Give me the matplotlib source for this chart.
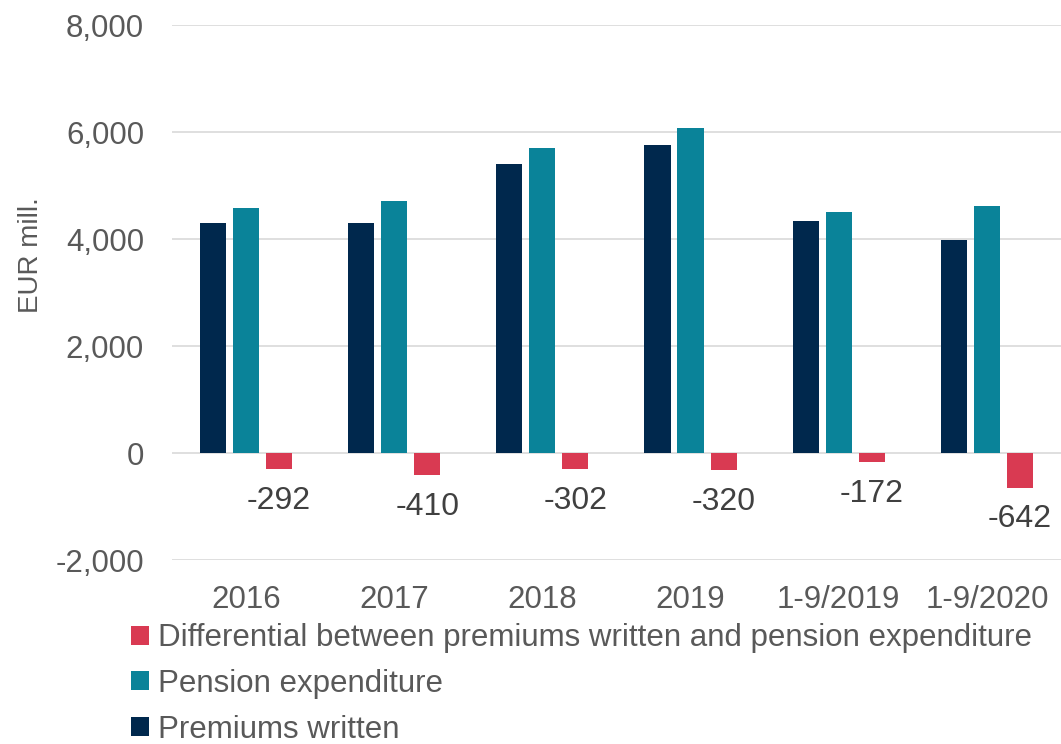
import matplotlib.pyplot as plt
import numpy as np

plt.rcParams['font.family'] = ['Liberation Sans', 'DejaVu Sans']

# data (EUR mill.)
categories = ['2016', '2017', '2018', '2019', '1-9/2019', '1-9/2020']
premiums = [4298, 4310, 5410, 5758, 4345, 3980]
pension = [4590, 4720, 5712, 6078, 4517, 4622]
differential = [-292, -410, -302, -320, -172, -642]

c_prem = '#00284d'
c_pens = '#0a8399'
c_diff = '#d93a52'
txt = '#595959'

fig = plt.figure(figsize=(10.61, 7.44), dpi=100)
ax = fig.add_axes([0.162, 0.247, 0.838, 0.719])

x = np.arange(len(categories))
step = 0.223
width = 0.176

b1 = ax.bar(x - step, premiums, width, color=c_prem, label='Premiums written', zorder=3)
b2 = ax.bar(x, pension, width, color=c_pens, label='Pension expenditure', zorder=3)
b3 = ax.bar(x + step, differential, width, color=c_diff,
            label='Differential between premiums written and pension expenditure', zorder=3)

# data labels under the differential bars
for bar, v in zip(b3, differential):
    ax.annotate(f'{v}', xy=(bar.get_x() + bar.get_width() / 2, v),
                xytext=(0, -12), textcoords='offset points',
                ha='center', va='top', fontsize=23, color='#404040')

ax.set_ylim(-2000, 8000)
ax.set_xlim(-0.5, len(categories) - 0.5)
ax.set_yticks(np.arange(-2000, 8001, 2000))
ax.yaxis.set_major_formatter(plt.FuncFormatter(lambda v, p: f'{int(v):,}'))
ax.set_xticks(x)
ax.set_xticklabels(categories)
ax.tick_params(axis='both', length=0, labelsize=22.5, labelcolor=txt)
ax.tick_params(axis='y', pad=20)
ax.tick_params(axis='x', pad=18)
ax.grid(axis='y', color='#d9d9d9', linewidth=1.2, zorder=0)
for s in ax.spines.values():
    s.set_visible(False)

fig.text(0.029, 0.657, 'EUR mill.', rotation=90, ha='center', va='center',
         fontsize=20, color=txt)

handles = [b3, b2, b1]
fig.legend(handles, [h.get_label() for h in handles], loc='upper left',
           bbox_to_anchor=(0.112, 0.179), frameon=False, fontsize=22.5,
           labelcolor=txt, handlelength=0.55, handleheight=0.55,
           handletextpad=0.3, labelspacing=0.5, borderaxespad=0)

plt.savefig('out.png', dpi=100)
plt.close()
